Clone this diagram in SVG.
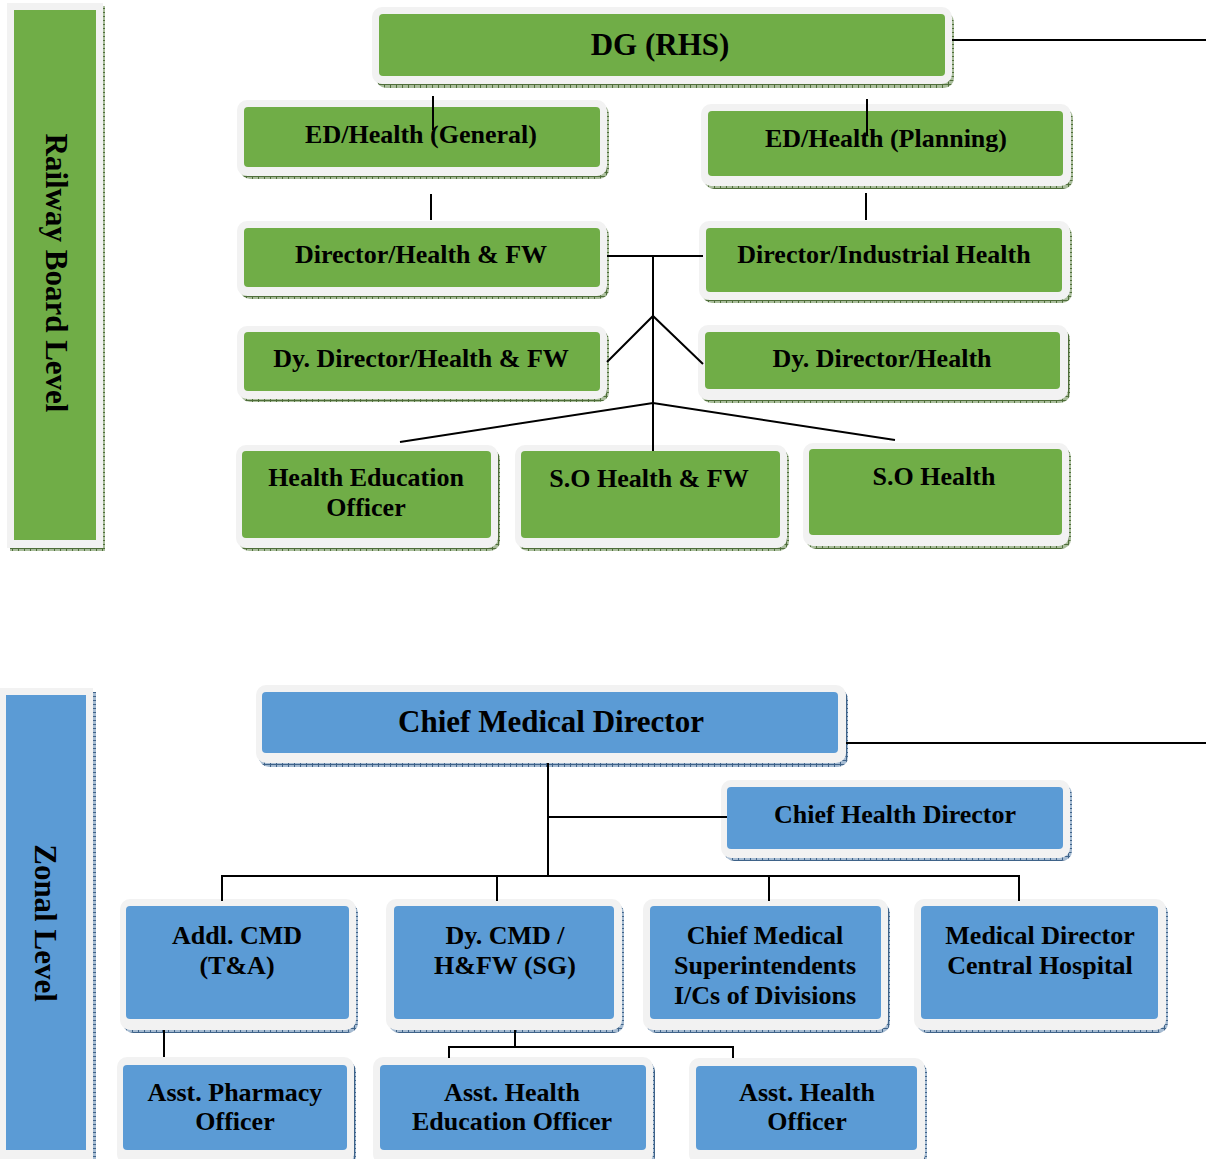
<svg xmlns="http://www.w3.org/2000/svg" width="1206" height="1159" viewBox="0 0 1206 1159">
<defs>
<pattern id="hg" width="6" height="4" patternUnits="userSpaceOnUse"><rect width="6" height="4" fill="#a9bd9b"/><path d="M0 0.5H6M0.5 0V4" stroke="#4f6e3a" stroke-width="1"/></pattern>
<pattern id="hb" width="6" height="4" patternUnits="userSpaceOnUse"><rect width="6" height="4" fill="#a5bbd2"/><path d="M0 0.5H6M0.5 0V4" stroke="#3f6389" stroke-width="1"/></pattern>
</defs>
<style>
.sg{fill:url(#hg)}
.sb{fill:url(#hb)}
.o{fill:#f2f2f2}
.g{fill:#70ad47}
.b{fill:#5b9bd5}
text{font-family:"Liberation Serif","Times New Roman",serif;font-weight:bold;fill:#000;text-anchor:middle}
.t26{font-size:26px}
.t31{font-size:31px}
.c line,.c path{stroke:#000;stroke-width:2;fill:none}
</style>
<rect width="1206" height="1159" fill="#fff"/>

<g id="railway-board-level">
<rect class="sg" x="10" y="6" width="95" height="545"/>
<rect class="o" x="7" y="3" width="96" height="545"/>
<rect class="g" x="14" y="10" width="82" height="530"/>
<text class="t31" transform="translate(57,273) rotate(90)" y="11">Railway Board Level</text>
</g>

<g id="dg-rhs">
<rect class="sg" x="376" y="12" width="578" height="76" rx="10"/>
<rect class="o" x="372" y="7" width="580" height="77" rx="10"/>
<rect class="g" x="379" y="14" width="566" height="62" rx="4"/>
<text class="t31" x="660" y="55">DG (RHS)</text>
</g>

<g id="ed-general">
<rect class="sg" x="240" y="104" width="369" height="75" rx="10"/>
<rect class="o" x="237" y="100" width="370" height="76" rx="10"/>
<rect class="g" x="244" y="107" width="356" height="60" rx="4"/>
<text class="t26" x="421" y="143">ED/Health (General)</text>
</g>

<g id="ed-planning">
<rect class="sg" x="704" y="108" width="369" height="81" rx="10"/>
<rect class="o" x="701" y="104" width="370" height="82" rx="10"/>
<rect class="g" x="708" y="111" width="355" height="65" rx="4"/>
<text class="t26" x="886" y="147">ED/Health (Planning)</text>
</g>

<g id="director-hfw">
<rect class="sg" x="240" y="225" width="369" height="74" rx="10"/>
<rect class="o" x="237" y="221" width="370" height="75" rx="10"/>
<rect class="g" x="244" y="228" width="356" height="59" rx="4"/>
<text class="t26" x="421" y="263">Director/Health &amp; FW</text>
</g>

<g id="director-industrial">
<rect class="sg" x="702" y="225" width="370" height="78" rx="10"/>
<rect class="o" x="699" y="221" width="371" height="79" rx="10"/>
<rect class="g" x="706" y="228" width="356" height="64" rx="4"/>
<text class="t26" x="884" y="263">Director/Industrial Health</text>
</g>

<g id="dy-director-hfw">
<rect class="sg" x="240" y="330" width="369" height="72" rx="10"/>
<rect class="o" x="237" y="326" width="370" height="73" rx="10"/>
<rect class="g" x="244" y="332" width="356" height="59" rx="4"/>
<text class="t26" x="421" y="367">Dy. Director/Health &amp; FW</text>
</g>

<g id="dy-director-health">
<rect class="sg" x="701" y="329" width="369" height="74" rx="10"/>
<rect class="o" x="698" y="325" width="370" height="75" rx="10"/>
<rect class="g" x="705" y="332" width="355" height="57" rx="4"/>
<text class="t26" x="882" y="367">Dy. Director/Health</text>
</g>

<g id="health-education-officer">
<rect class="sg" x="239" y="449" width="261" height="102" rx="10"/>
<rect class="o" x="236" y="445" width="262" height="103" rx="10"/>
<rect class="g" x="242" y="451" width="249" height="87" rx="4"/>
<text class="t26" x="366" y="486">Health Education</text>
<text class="t26" x="366" y="516">Officer</text>
</g>

<g id="so-health-fw">
<rect class="sg" x="518" y="449" width="271" height="102" rx="10"/>
<rect class="o" x="515" y="445" width="272" height="103" rx="10"/>
<rect class="g" x="521" y="451" width="259" height="87" rx="4"/>
<text class="t26" x="649" y="487">S.O Health &amp; FW</text>
</g>

<g id="so-health">
<rect class="sg" x="806" y="447" width="265" height="102" rx="10"/>
<rect class="o" x="803" y="443" width="266" height="103" rx="10"/>
<rect class="g" x="809" y="449" width="253" height="86" rx="4"/>
<text class="t26" x="934" y="485">S.O Health</text>
</g>

<g id="zonal-level">
<rect class="sb" x="3" y="692" width="93" height="470"/>
<rect class="o" x="0" y="688" width="93" height="475"/>
<rect class="b" x="6" y="695" width="80" height="455"/>
<text class="t31" transform="translate(46,923) rotate(90)" y="11">Zonal Level</text>
</g>

<g id="chief-medical-director">
<rect class="sb" x="259" y="689" width="589" height="78" rx="10"/>
<rect class="o" x="256" y="685" width="590" height="78" rx="10"/>
<rect class="b" x="262" y="692" width="576" height="61" rx="4"/>
<text class="t31" x="551" y="732">Chief Medical Director</text>
</g>

<g id="chief-health-director">
<rect class="sb" x="724" y="784" width="348" height="77" rx="10"/>
<rect class="o" x="721" y="780" width="349" height="78" rx="10"/>
<rect class="b" x="727" y="787" width="336" height="62" rx="4"/>
<text class="t26" x="895" y="823">Chief Health Director</text>
</g>

<g id="addl-cmd">
<rect class="sb" x="123" y="903" width="235" height="130" rx="10"/>
<rect class="o" x="120" y="899" width="236" height="131" rx="10"/>
<rect class="b" x="126" y="906" width="223" height="113" rx="4"/>
<text class="t26" x="237" y="944">Addl. CMD</text>
<text class="t26" x="237" y="974">(T&amp;A)</text>
</g>

<g id="dy-cmd">
<rect class="sb" x="389" y="903" width="235" height="130" rx="10"/>
<rect class="o" x="386" y="899" width="236" height="131" rx="10"/>
<rect class="b" x="394" y="906" width="220" height="113" rx="4"/>
<text class="t26" x="505" y="944">Dy. CMD /</text>
<text class="t26" x="505" y="974">H&amp;FW (SG)</text>
</g>

<g id="cms">
<rect class="sb" x="646" y="903" width="244" height="130" rx="10"/>
<rect class="o" x="643" y="899" width="245" height="131" rx="10"/>
<rect class="b" x="650" y="906" width="231" height="113" rx="4"/>
<text class="t26" x="765" y="944">Chief Medical</text>
<text class="t26" x="765" y="974">Superintendents</text>
<text class="t26" x="765" y="1004">I/Cs of Divisions</text>
</g>

<g id="md-central-hospital">
<rect class="sb" x="917" y="903" width="251" height="130" rx="10"/>
<rect class="o" x="914" y="899" width="252" height="131" rx="10"/>
<rect class="b" x="921" y="906" width="237" height="113" rx="4"/>
<text class="t26" x="1040" y="944">Medical Director</text>
<text class="t26" x="1040" y="974">Central Hospital</text>
</g>

<g id="asst-pharmacy">
<rect class="sb" x="120" y="1061" width="236" height="105" rx="10"/>
<rect class="o" x="117" y="1057" width="237" height="107" rx="10"/>
<rect class="b" x="123" y="1065" width="224" height="85" rx="4"/>
<text class="t26" x="235" y="1101">Asst. Pharmacy</text>
<text class="t26" x="235" y="1130">Officer</text>
</g>

<g id="asst-health-education">
<rect class="sb" x="376" y="1061" width="279" height="105" rx="10"/>
<rect class="o" x="373" y="1057" width="280" height="107" rx="10"/>
<rect class="b" x="380" y="1065" width="266" height="85" rx="4"/>
<text class="t26" x="512" y="1101">Asst. Health</text>
<text class="t26" x="512" y="1130">Education Officer</text>
</g>

<g id="asst-health-officer">
<rect class="sb" x="692" y="1062" width="235" height="104" rx="10"/>
<rect class="o" x="689" y="1058" width="236" height="106" rx="10"/>
<rect class="b" x="696" y="1066" width="221" height="84" rx="4"/>
<text class="t26" x="807" y="1101">Asst. Health</text>
<text class="t26" x="807" y="1130">Officer</text>
</g>

<g id="connectors" class="c">
<line x1="952" y1="40" x2="1206" y2="40"/>
<line x1="433" y1="96" x2="433" y2="130"/>
<line x1="867" y1="99" x2="867" y2="136"/>
<line x1="431" y1="194" x2="431" y2="220"/>
<line x1="866" y1="193" x2="866" y2="220"/>
<line x1="607" y1="256" x2="703" y2="256"/>
<line x1="653" y1="256" x2="653" y2="451"/>
<path d="M607 362L653 316L703 364"/>
<path d="M400 442L653 403L895 440"/>
<line x1="846" y1="743" x2="1206" y2="743"/>
<line x1="548" y1="763" x2="548" y2="876"/>
<line x1="548" y1="817" x2="727" y2="817"/>
<path d="M222 901V876H1019V901"/>
<line x1="497" y1="876" x2="497" y2="901"/>
<line x1="769" y1="876" x2="769" y2="901"/>
<line x1="164" y1="1030" x2="164" y2="1057"/>
<line x1="515" y1="1030" x2="515" y2="1047"/>
<path d="M449 1058V1047H733V1058"/>
</g>
</svg>
